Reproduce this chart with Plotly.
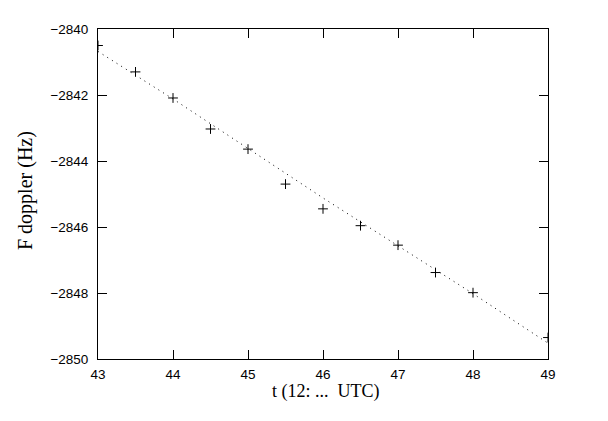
import plotly.graph_objects as go

# measured Doppler frequency (points)
t_meas = [43.0, 43.5, 44.0, 44.5, 45.0, 45.5, 46.0, 46.5, 47.0, 47.5, 48.0, 49.0]
f_meas = [-2840.50, -2841.30, -2842.09, -2843.03, -2843.64, -2844.70,
          -2845.45, -2845.96, -2846.55, -2847.38, -2847.99, -2849.35]

# fitted curve (dotted)
t_fit = [43, 44, 45, 46, 47, 48, 49]
f_fit = [-2840.68, -2842.12, -2843.62, -2845.12, -2846.57, -2848.02, -2849.52]

x_ticks = [43, 44, 45, 46, 47, 48, 49]
y_ticks = [-2850, -2848, -2846, -2844, -2842, -2840]

x_title = "t (12: ...  UTC)"
y_title = "F doppler (Hz)"

fig = go.Figure()
fig.add_trace(go.Scatter(x=t_fit, y=f_fit, mode="lines",
                         line=dict(color="black", width=1, dash="1px,4.5px"),
                         showlegend=False))
fig.add_trace(go.Scatter(x=t_meas, y=f_meas, mode="markers",
                         marker=dict(symbol="cross-thin", size=7,
                                     line=dict(color="black", width=1)),
                         showlegend=False))

axis_common = dict(showgrid=False, zeroline=False, showline=True, linecolor="black",
                   linewidth=1, mirror="allticks", ticks="inside", ticklen=9,
                   tickcolor="black", tickwidth=1, automargin=False,
                   tickfont=dict(family="Liberation Sans, Arial, sans-serif", size=13.5, color="black"))

serif = "Liberation Serif, Times New Roman, serif"

# the page body has an 8px margin, so the figure starts at (8, 8)
fig.update_layout(
    width=600, height=413,
    margin=dict(l=89.5, r=59.7, t=21.3, b=61.7),
    paper_bgcolor="white", plot_bgcolor="white",
    xaxis=dict(range=[43, 49], tickvals=x_ticks, ticklabelstandoff=3, **axis_common),
    yaxis=dict(range=[-2850, -2840], tickvals=y_ticks, ticklabelstandoff=6, **axis_common),
    annotations=[
        dict(text=x_title, xref="paper", yref="paper", x=0.5, y=0,
             xanchor="center", yanchor="top", xshift=3, yshift=-20,
             showarrow=False, font=dict(family=serif, size=18, color="black")),
        dict(text=y_title, xref="paper", yref="paper", x=0, y=0.5,
             xanchor="center", yanchor="middle", xshift=-73, yshift=3,
             textangle=-90, showarrow=False,
             font=dict(family=serif, size=20, color="black")),
    ],
)

fig.write_html("out.html")
